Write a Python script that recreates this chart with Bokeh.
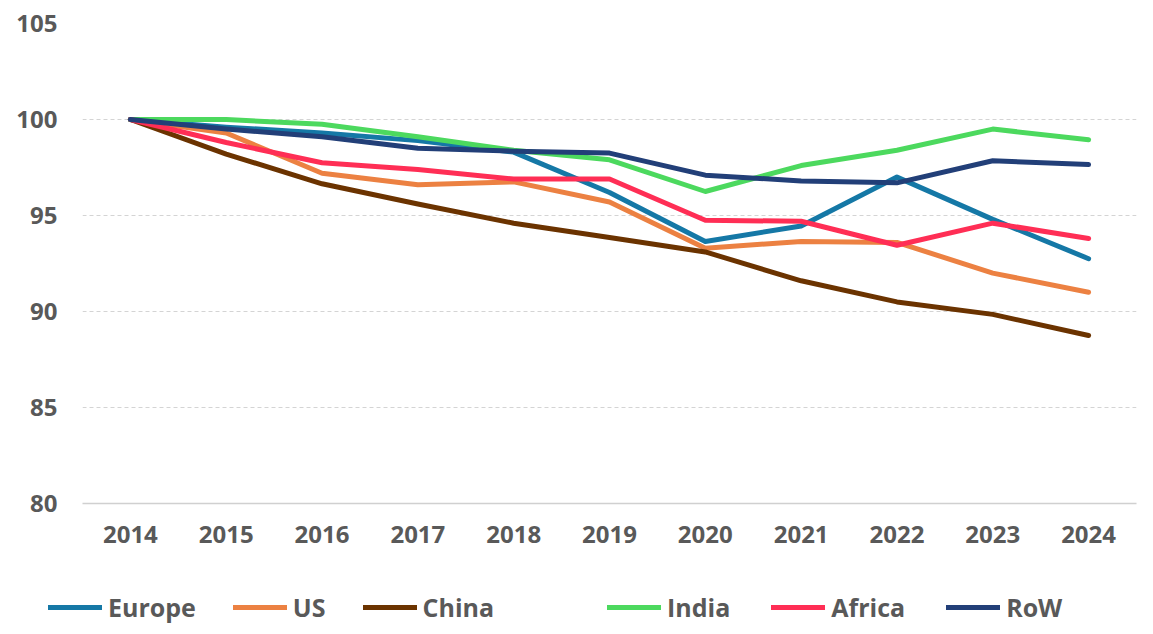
from bokeh.plotting import figure
from bokeh.layouts import column, row
from bokeh.models import Range1d, FixedTicker, Legend, LegendItem
from bokeh.embed import file_html
from bokeh.resources import INLINE

years = [2014, 2015, 2016, 2017, 2018, 2019, 2020, 2021, 2022, 2023, 2024]
europe = [100, 99.6, 99.3, 98.9, 98.3, 96.2, 93.65, 94.45, 97.0, 94.8, 92.75]
us = [100, 99.3, 97.2, 96.6, 96.75, 95.7, 93.3, 93.65, 93.6, 92.0, 91.0]
china = [100, 98.2, 96.65, 95.6, 94.6, 93.85, 93.1, 91.6, 90.5, 89.85, 88.75]
india = [100, 100.0, 99.75, 99.1, 98.4, 97.9, 96.25, 97.6, 98.4, 99.5, 98.95]
africa = [100, 98.8, 97.75, 97.4, 96.9, 96.9, 94.75, 94.7, 93.45, 94.6, 93.8]
row_vals = [100, 99.5, 99.1, 98.5, 98.35, 98.25, 97.1, 96.8, 96.7, 97.85, 97.65]

series_names = ["Europe", "US", "China", "India", "Africa", "RoW"]
series_values = [europe, us, china, india, africa, row_vals]
series_colors = ["#1578A6", "#EC8142", "#6B3300", "#4CD95E", "#FF2E55", "#223F78"]
y_ticks = [80, 85, 90, 95, 100, 105]

FONT = "Open Sans"
TXT = "#595959"

p = figure(width=1153, height=573, output_backend="svg", toolbar_location=None,
           x_range=Range1d(2013.5, 2024.5), y_range=Range1d(80, 105),
           min_border_left=82, min_border_right=17, min_border_top=23, min_border_bottom=70)
p.outline_line_color = None

p.xaxis.ticker = FixedTicker(ticks=years)
p.yaxis.ticker = FixedTicker(ticks=y_ticks)
for ax in (p.xaxis, p.yaxis):
    ax.major_tick_line_color = None
    ax.minor_tick_line_color = None
    ax.major_label_text_font = FONT
    ax.major_label_text_font_style = "bold"
    ax.major_label_text_font_size = "24px"
    ax.major_label_text_color = TXT
p.yaxis.axis_line_color = None
p.yaxis.major_label_standoff = 19
p.xaxis.axis_line_color = "#d0d0d0"
p.xaxis.axis_line_width = 1.5
p.xaxis.major_label_standoff = 16

p.xgrid.grid_line_color = None
p.ygrid.grid_line_color = "#d4d4d4"
p.ygrid.grid_line_dash = "4 3"
p.ygrid.grid_line_width = 1

for name, vals, col in zip(series_names, series_values, series_colors):
    p.line(years, vals, line_color=col, line_width=5, line_cap="round", line_join="round")

# legend strip below the chart
lg_fig = figure(width=1153, height=61, output_backend="svg", toolbar_location=None,
                x_range=Range1d(0, 1), y_range=Range1d(0, 1),
                x_axis_location=None, y_axis_location=None,
                min_border_left=0, min_border_right=0, min_border_top=0, min_border_bottom=0)
lg_fig.grid.visible = False
lg_fig.outline_line_color = None

lg_renderers = []
for name, col in zip(series_names, series_colors):
    r = lg_fig.line([-5, -4], [-5, -4], line_color=col, line_width=5, line_cap="round")
    lg_renderers.append(r)

def make_legend(idx, loc, spacing):
    items = [LegendItem(label=series_names[i], renderers=[lg_renderers[i]]) for i in idx]
    return Legend(items=items, orientation="horizontal", location=loc,
                  glyph_width=54, glyph_height=30, label_standoff=6, spacing=spacing,
                  padding=0, margin=0, border_line_color=None, background_fill_alpha=0,
                  label_text_font=FONT, label_text_font_style="bold",
                  label_text_font_size="25px", label_text_color=TXT)

lg_fig.add_layout(make_legend([0, 1, 2], (48, 10), 37))
lg_fig.add_layout(make_legend([3, 4, 5], (607, 10), 41))

layout = column(p, row(lg_fig, spacing=0), spacing=0)
open("out.html", "w").write(file_html(layout, INLINE))
